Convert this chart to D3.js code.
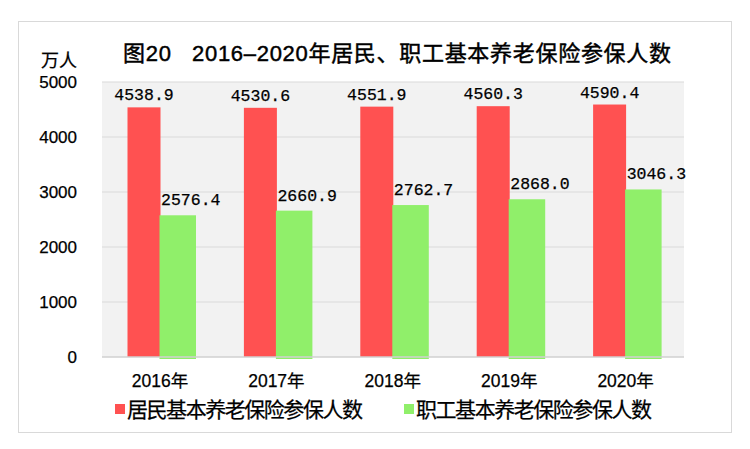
<!DOCTYPE html>
<html>
<head>
<meta charset="utf-8">
<script src="https://cdn.jsdelivr.net/npm/d3@7"></script>
<style>
  html, body { margin: 0; padding: 0; background: #fff; }
  svg { display: block; }
  text { fill: #000; stroke: #000; stroke-width: 0.25px; }
</style>
</head>
<body>
<script>
// values
const years = ["2016年", "2017年", "2018年", "2019年", "2020年"];
const series = ["居民基本养老保险参保人数", "职工基本养老保险参保人数"];
const residents = [4538.9, 4530.6, 4551.9, 4560.3, 4590.4];
const workers = [2576.4, 2660.9, 2762.7, 2868.0, 3046.3];
const yTicks = [0, 1000, 2000, 3000, 4000, 5000];
const colors = ["#ff5151", "#90ef6a"];

const W = 750, H = 449;
const plot = { left: 102, right: 684, top: 82, bottom: 357 };
const sans = "'Liberation Sans', 'Noto Sans CJK SC', sans-serif";

const svg = d3.select("body").append("svg")
  .attr("width", W).attr("height", H);

// outer frame
svg.append("rect")
  .attr("x", 18.5).attr("y", 21.5)
  .attr("width", 713).attr("height", 411)
  .attr("fill", "#fff").attr("stroke", "#d9d9d9");

// plot background
svg.append("rect")
  .attr("x", plot.left).attr("y", plot.top)
  .attr("width", plot.right - plot.left).attr("height", plot.bottom - plot.top)
  .attr("fill", "#f2f2f2");

const x = d3.scaleBand().domain(years).range([plot.left, plot.right]);
const y = d3.scaleLinear().domain([0, 5000]).range([plot.bottom, plot.top]);

// gridlines
svg.append("g").selectAll("line")
  .data(yTicks.slice(1))
  .join("line")
    .attr("x1", plot.left).attr("x2", plot.right)
    .attr("y1", d => y(d)).attr("y2", d => y(d))
    .attr("stroke", "#d9d9d9").attr("stroke-width", 1.2);

// y tick labels
svg.append("g").selectAll("text")
  .data(yTicks)
  .join("text")
    .attr("x", 77).attr("y", d => y(d))
    .attr("dy", "0.36em")
    .attr("text-anchor", "end")
    .style("font", `17px ${sans}`)
    .text(d => d);

svg.append("text")
  .attr("x", 59).attr("y", 66.5)
  .attr("text-anchor", "middle")
  .style("font", `18px ${sans}`)
  .text("万人");

// bars: red narrower, green slightly wider and touching it
const barOff = [25.5, 57.5], barW = [33, 36.5];
const sets = [residents, workers];

sets.forEach((vals, s) => {
  svg.append("g").selectAll("rect")
    .data(vals)
    .join("rect")
      .attr("x", (d, i) => x(years[i]) + barOff[s])
      .attr("y", d => y(d))
      .attr("width", barW[s])
      .attr("height", d => y(0) - y(d) + (s === 1 ? 2 : 0))
      .attr("fill", colors[s]);
});

// baseline
svg.append("line")
  .attr("x1", plot.left).attr("x2", plot.right)
  .attr("y1", y(0)).attr("y2", y(0))
  .attr("stroke", "#d0d0d0").attr("stroke-width", 1.5);

// value labels
const labelDx = [0, 13], labelDy = [-7, -10];
sets.forEach((vals, s) => {
  svg.append("g").selectAll("text")
    .data(vals)
    .join("text")
      .attr("x", (d, i) => x(years[i]) + barOff[s] + barW[s] / 2 + labelDx[s])
      .attr("y", d => y(d) + labelDy[s])
      .attr("text-anchor", "middle")
      .style("font", "16.5px 'Liberation Mono', 'DejaVu Sans Mono', monospace")
      .text(d => d.toFixed(1));
});

// x labels
svg.append("g").selectAll("text")
  .data(years)
  .join("text")
    .attr("x", d => x(d) + 58)
    .attr("y", 387)
    .attr("text-anchor", "middle")
    .style("font", `17.5px ${sans}`)
    .text(d => d);

// title
svg.append("text")
  .attr("x", 123).attr("y", 61)
  .attr("textLength", 548).attr("lengthAdjust", "spacing")
  .style("font", `22px ${sans}`)
  .style("white-space", "pre")
  .style("stroke-width", "0.45px")
  .text("图20   2016–2020年居民、职工基本养老保险参保人数");

// legend
const legX = [115, 404];
series.forEach((name, s) => {
  svg.append("rect")
    .attr("x", legX[s]).attr("y", 404)
    .attr("width", 10).attr("height", 10)
    .attr("fill", colors[s]);
  svg.append("text")
    .attr("x", legX[s] + 12).attr("y", 417)
    .attr("textLength", 236).attr("lengthAdjust", "spacing")
    .style("font", `21px ${sans}`)
    .text(name);
});
</script>
</body>
</html>
